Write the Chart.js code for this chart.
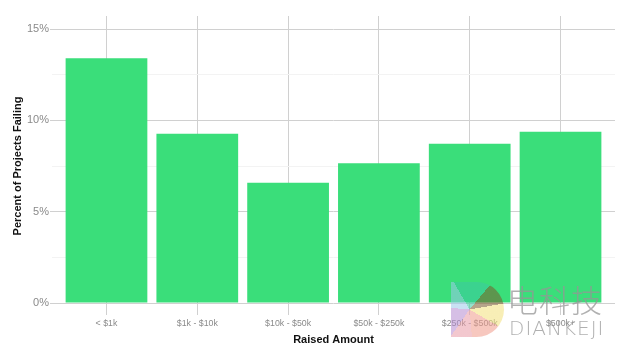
<!DOCTYPE html>
<html>
<head>
<meta charset="utf-8">
<script src="https://cdn.jsdelivr.net/npm/chart.js@4"></script>
<style>
  html, body { margin: 0; padding: 0; background: #fff; }
  #wrap { position: relative; width: 630px; height: 354px; }
  .wm { position: absolute; color: rgba(150,150,150,0.75); font-family: "Noto Sans CJK SC", "Liberation Sans", sans-serif; pointer-events: none; }
  .logo { position: absolute; left: 451px; top: 282px; width: 53px; height: 55px; border-radius: 0 28px 28px 0; opacity: 0.55;
          background: conic-gradient(from 0deg at 35% 50%, #3cc9a0 0deg 40deg, #7a5a2a 40deg 80deg, #f2e07a 80deg 120deg, #f09a8a 120deg 175deg, #e89aa6 175deg 215deg, #b48ad0 215deg 275deg, #9cc8ea 275deg 330deg, #3cc9a0 330deg 360deg); }
</style>
</head>
<body>
<div id="wrap">
  <canvas id="grafico" width="630" height="354"></canvas>
  <div class="logo"></div>
  <div class="wm" style="left:507px; top:276px; font-size:31px; font-weight:300; letter-spacing:1px;">电科技</div>
  <div class="wm" style="left:509px; top:316px; font-size:20px; font-family:'DejaVu Sans', sans-serif; font-weight:200; letter-spacing:1px;">DIANKEJI</div>
</div>
<script>
// categorias y valores
const categorias = ["< $1k", "$1k - $10k", "$10k - $50k", "$50k - $250k", "$250k - $500k", "$500k+"];
const porcentajes = [13.40, 9.27, 6.58, 7.66, 8.72, 9.38];
const ticksY = [0, 2.5, 5, 7.5, 10, 12.5, 15];
const tituloY = 'Percent of Projects Failing';

const ctx = document.getElementById('grafico').getContext('2d');

// titulo del eje Y dibujado a mano para poder centrarlo como en el original
const tituloEjeY = {
    id: 'tituloEjeY',
    afterDraw(chart) {
        const c = chart.ctx;
        c.save();
        c.translate(17.5, 166);
        c.rotate(-Math.PI / 2);
        c.font = 'bold 11px "Liberation Sans"';
        c.fillStyle = '#111';
        c.textAlign = 'center';
        c.textBaseline = 'middle';
        c.fillText(tituloY, 0, 0);
        c.restore();
    }
};

new Chart(ctx, {
    type: 'bar',
    data: {
        datasets: [{
            data: porcentajes.map((v, i) => ({ x: i, y: v })),
            backgroundColor: '#3ade7a',
            borderColor: '#3ade7a',
            borderWidth: 0,
            barPercentage: 0.9,
            categoryPercentage: 1.0
        }]
    },
    options: {
        responsive: false,
        animation: false,
        layout: { padding: { top: 16, right: 15, left: 0, bottom: 0 } },
        plugins: { legend: { display: false }, tooltip: { enabled: false } },
        scales: {
            x: {
                type: 'linear',
                offset: false,
                min: -0.6,
                max: categorias.length - 0.4,
                afterBuildTicks: (scale) => { scale.ticks = categorias.map((_, i) => ({ value: i })); },
                afterFit: (scale) => { scale.height = 51; },
                grid: { offset: false, color: '#d0d0d0', lineWidth: 1, tickLength: 12, drawTicks: true },
                border: { display: false },
                ticks: {
                    color: '#8a8a8a',
                    font: { family: 'Liberation Sans', size: 8.8 },
                    padding: 3,
                    maxRotation: 0,
                    autoSkip: false,
                    callback: (v) => categorias[v]
                },
                title: {
                    display: true,
                    text: 'Raised Amount',
                    color: '#111',
                    font: { family: 'Liberation Sans', size: 11, weight: 'bold' },
                    padding: { top: 2, bottom: 7 }
                }
            },
            y: {
                min: 0,
                max: 15.72,
                afterBuildTicks: (scale) => { scale.ticks = ticksY.map(v => ({ value: v })); },
                afterFit: (scale) => { scale.width = 52; },
                grid: {
                    color: (c) => (c.tick && c.tick.value % 5 === 0) ? '#d0d0d0' : '#f3f3f3',
                    tickLength: 2,
                    tickColor: (c) => (c.tick && c.tick.value % 5 === 0) ? '#d0d0d0' : 'rgba(0,0,0,0)'
                },
                border: { display: false },
                ticks: {
                    color: '#8a8a8a',
                    font: { family: 'Liberation Sans', size: 11 },
                    padding: 1,
                    callback: (v) => (v % 5 === 0) ? v + '%' : ''
                },
                title: { display: false }
            }
        }
    },
    plugins: [tituloEjeY]
});
</script>
</body>
</html>
